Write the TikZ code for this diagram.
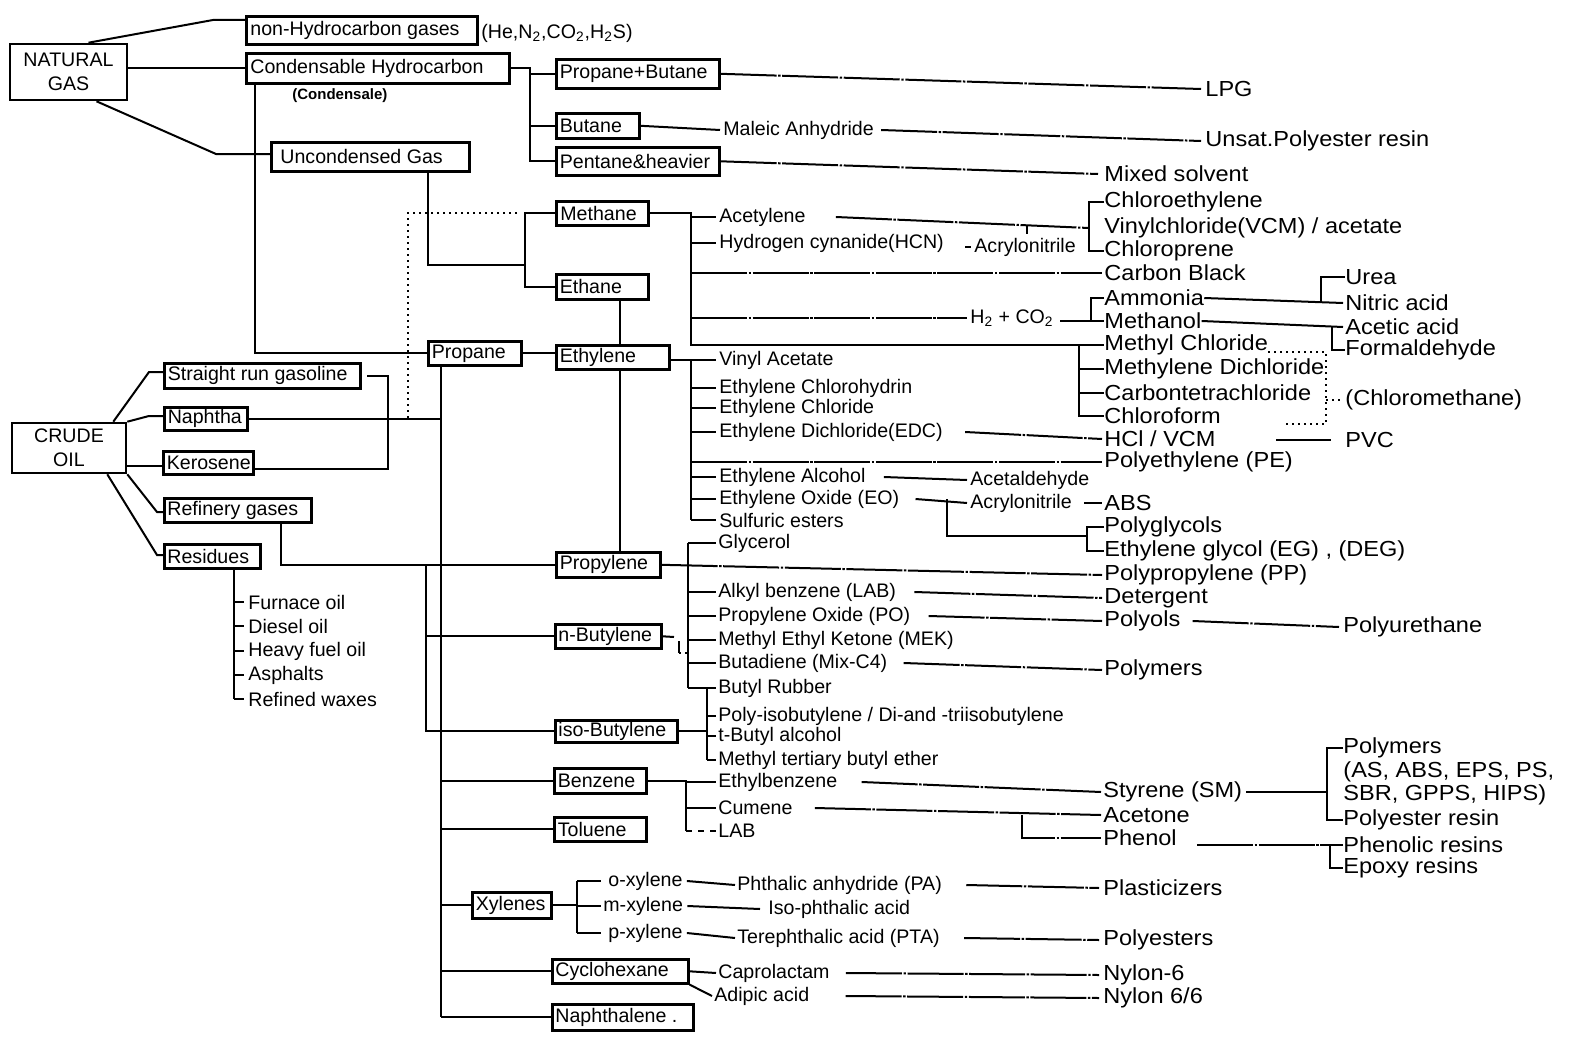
\documentclass[tikz,border=0pt]{standalone}
\usepackage{fontspec}
\setmainfont{Liberation Sans}
\newfontfamily\fBfam[FakeStretch=1.08]{Liberation Sans}
\newcommand\fntA{\fontsize{9.8pt}{12pt}\selectfont}
\newcommand\fntB{\fBfam\fontsize{10.9pt}{12pt}\selectfont}
\newcommand\fntC{\fontsize{7.5pt}{9pt}\selectfont\bfseries}
\tikzset{
  ln/.style={line width=1pt},
  ld/.style={line width=1pt, dash pattern=on 28pt off 0.8pt on 1.2pt off 0.8pt},
  dt/.style={line width=1pt, dash pattern=on 1pt off 2pt},
  boxs/.style={draw, line width=1.3pt, inner sep=0pt},
  tA/.style={anchor=west, inner sep=0pt, font=\fntA},
  tB/.style={anchor=west, inner sep=0pt, font=\fntB},
}
\newcommand\bxn[7]{%
  \node[boxs, anchor=north west, minimum width={(#4-#2)*0.5pt}, minimum height={(#5-#3)*0.5pt}] (#1) at (#2,#3) {};
  \node[tA] (#1t) at ([xshift=#6pt]#1.west) {#7};}
\begin{document}
\begin{tikzpicture}[x=0.5pt,y=-0.5pt]
\useasboundingbox (0,0) rectangle (1573,1038);
% ---------- boxes ----------
\node[boxs, minimum width=58.5pt, minimum height=28pt, align=center, font=\fntA] (ng) at (68.5,72) {NATURAL\\GAS};
\node[boxs, minimum width=57pt, minimum height=25pt, align=center, font=\fntA] (crude) at (69,448) {CRUDE\\OIL};
\bxn{nhc}{245}{15}{476}{43}{2.5}{non-Hydrocarbon gases}
\bxn{cond}{245}{52}{508}{82}{2.5}{Condensable Hydrocarbon}
\bxn{unc}{270}{141}{468}{170}{5}{Uncondensed Gas}
\bxn{pb}{555}{58}{718}{87}{2.2}{Propane+Butane}
\bxn{but}{555}{112}{638}{137}{2.2}{Butane}
\bxn{pent}{555}{146}{718}{174}{2.2}{Pentane\&heavier}
\bxn{meth}{555}{200}{647}{224}{2.5}{Methane}
\bxn{eth}{555}{273}{647}{298}{2.2}{Ethane}
\bxn{ethy}{555}{344}{668}{368}{2.2}{Ethylene}
\bxn{prop}{427}{340}{520}{364}{2.2}{Propane}
\bxn{propy}{555}{551}{659}{576}{2.2}{Propylene}
\bxn{nbut}{554}{623}{660}{647}{2}{n-Butylene}
\bxn{ibut}{554}{719}{676}{741}{2}{iso-Butylene}
\bxn{benz}{553}{767}{645}{792}{2.2}{Benzene}
\bxn{tol}{553}{816}{645}{840}{2.2}{Toluene}
\bxn{xyl}{471}{891}{550}{917}{2.2}{Xylenes}
\bxn{cyc}{551}{958}{687}{982}{2}{Cyclohexane}
\bxn{nap}{551}{1003}{692}{1029}{2}{Naphthalene .}
\bxn{srg}{163}{362}{359}{387}{2.2}{Straight run gasoline}
\bxn{naph}{163}{406}{246}{429}{2.2}{Naphtha}
\bxn{kero}{162}{450}{252}{473}{2.2}{Kerosene}
\bxn{ref}{163}{497}{310}{521}{2}{Refinery gases}
\bxn{res}{163}{543}{259}{567}{2}{Residues}
% ---------- texts (font A) ----------
\node[tA] (nhcx) at (481,33) {(He,N\textsubscript{2},CO\textsubscript{2},H\textsubscript{2}S)};
\node[anchor=west, inner sep=0pt, font=\fntC] (condx) at (292,96) {(Condensale)};
\node[tA] (mal) at (723,130) {Maleic Anhydride};
\node[tA] (acet) at (719,217) {Acetylene};
\node[tA] (hcn) at (719,243) {Hydrogen cynanide(HCN)};
\node[tA] (acr1) at (974,247) {Acrylonitrile};
\node[tA] (h2) at (970,318) {H\textsubscript{2}\ + CO\textsubscript{2}};
\node[tA] (vac) at (719,360) {Vinyl Acetate};
\node[tA] (ech) at (719,388) {Ethylene Chlorohydrin};
\node[tA] (ecl) at (719,408) {Ethylene Chloride};
\node[tA] (edc) at (719,432) {Ethylene Dichloride(EDC)};
\node[tA] (alc) at (719,477) {Ethylene Alcohol};
\node[tA] (acald) at (970,480) {Acetaldehyde};
\node[tA] (eo) at (719,499) {Ethylene Oxide (EO)};
\node[tA] (acr2) at (970,503) {Acrylonitrile};
\node[tA] (sulf) at (719,520) {Sulfuric esters};
\node[tA] (gly) at (718,543) {Glycerol};
\node[tA] (lab) at (718,592) {Alkyl benzene (LAB)};
\node[tA] (po) at (718,616) {Propylene Oxide (PO)};
\node[tA] (mek) at (718,640) {Methyl Ethyl Ketone (MEK)};
\node[tA] (btd) at (718,663) {Butadiene (Mix-C4)};
\node[tA] (brub) at (718,688) {Butyl Rubber};
\node[tA] (pib) at (718,716) {Poly-isobutylene / Di-and -triisobutylene};
\node[tA] (tba) at (718,736) {t-Butyl alcohol};
\node[tA] (mtbe) at (718,760) {Methyl tertiary butyl ether};
\node[tA] (ebz) at (718,782) {Ethylbenzene};
\node[tA] (cum) at (718,808) {Cumene};
\node[tA] (lab2) at (718,831) {LAB};
\node[tA] (oxy) at (608,881) {o-xylene};
\node[tA] (mxy) at (603,906) {m-xylene};
\node[tA] (pxy) at (608,933) {p-xylene};
\node[tA] (pa) at (737,885) {Phthalic anhydride (PA)};
\node[tA] (ipa) at (768,909) {Iso-phthalic acid};
\node[tA] (pta) at (737,938) {Terephthalic acid (PTA)};
\node[tA] (capro) at (718,973) {Caprolactam};
\node[tA] (adip) at (714,996) {Adipic acid};
\node[tA] (fo) at (248,602) {Furnace oil};
\node[tA] (dso) at (248,626) {Diesel oil};
\node[tA] (hfo) at (248,651) {Heavy fuel oil};
\node[tA] (asp) at (248,675) {Asphalts};
\node[tA] (rw) at (248,699) {Refined waxes};
% ---------- texts (font B) ----------
\node[tB] (lpg) at (1205,89) {LPG};
\node[tB] (unsat) at (1205,141) {Unsat.Polyester resin};
\node[tB] (mix) at (1104,174) {Mixed solvent};
\node[tB] (chlet) at (1104,202) {Chloroethylene};
\node[tB] (vcm) at (1104,228) {Vinylchloride(VCM) / acetate};
\node[tB] (chlpr) at (1104,251) {Chloroprene};
\node[tB] (cblk) at (1104,273) {Carbon Black};
\node[tB] (amm) at (1104,298) {Ammonia};
\node[tB] (meoh) at (1104,321) {Methanol};
\node[tB] (mecl) at (1104,345) {Methyl Chloride};
\node[tB] (mdc) at (1104,369) {Methylene Dichloride};
\node[tB] (ctc) at (1104,393) {Carbontetrachloride};
\node[tB] (chlf) at (1104,416) {Chloroform};
\node[tB] (hcl) at (1104,439) {HCl / VCM};
\node[tB] (pe) at (1104,462) {Polyethylene (PE)};
\node[tB] (abs) at (1104,503) {ABS};
\node[tB] (pgly) at (1104,527) {Polyglycols};
\node[tB] (eg) at (1104,551) {Ethylene glycol (EG) , (DEG)};
\node[tB] (pp) at (1104,575) {Polypropylene (PP)};
\node[tB] (det) at (1104,598) {Detergent};
\node[tB] (pol) at (1104,621) {Polyols};
\node[tB] (pur) at (1343,627) {Polyurethane};
\node[tB] (pmr) at (1104,670) {Polymers};
\node[tB] (urea) at (1345,277) {Urea};
\node[tB] (nit) at (1345,303) {Nitric acid};
\node[tB] (acet2) at (1345,327) {Acetic acid};
\node[tB] (form) at (1345,350) {Formaldehyde};
\node[tB] (cmeth) at (1345,400) {(Chloromethane)};
\node[tB] (pvc) at (1345,440) {PVC};
\node[tB] (sty) at (1103,792) {Styrene (SM)};
\node[tB] (acn) at (1103,815) {Acetone};
\node[tB] (phe) at (1103,838) {Phenol};
\node[tB] (pm2) at (1343,748) {Polymers};
\node[tB] (pm2b) at (1343,772) {(AS, ABS, EPS, PS,};
\node[tB] (pm2c) at (1343,795) {SBR, GPPS, HIPS)};
\node[tB] (pres) at (1343,820) {Polyester resin};
\node[tB] (phr) at (1343,845) {Phenolic resins};
\node[tB] (epr) at (1343,868) {Epoxy resins};
\node[tB] (plast) at (1103,888) {Plasticizers};
\node[tB] (pest) at (1103,940) {Polyesters};
\node[tB] (ny6) at (1103,975) {Nylon-6};
\node[tB] (ny66) at (1103,998) {Nylon 6/6};
% ---------- helper coordinates ----------
\coordinate (xCond) at (255,0);
\coordinate (xUnc) at (428,0);
\coordinate (yU) at (0,265);
\coordinate (xMB) at (525,0);
\coordinate (dotR) at (517,0);
\coordinate (xCB) at (530,0);
\coordinate (xDot) at (408,0);
\coordinate (xP) at (441,0);
\coordinate (xP2) at (426,0);
\coordinate (xE) at (620,0);
\coordinate (xM) at (691,0);
\coordinate (xT) at (716,0);
\coordinate (xPr) at (688,0);
\coordinate (xIb) at (707,0);
\coordinate (xBz) at (686,0);
\coordinate (xXy) at (577,0);
\coordinate (xXt) at (601,0);
\coordinate (xSrg) at (388,0);
\coordinate (srgR) at (367,0);
\coordinate (yK) at (0,469);
\coordinate (yCk) at (0,466);
\coordinate (xRef) at (281,0);
\coordinate (xRes) at (234,0);
\coordinate (xResT) at (244,0);
\coordinate (k1) at (213,20);
\coordinate (k2) at (216,154);
\coordinate (c1) at (149,372);
\coordinate (c2) at (149,416);
\coordinate (c3) at (157,512);
\coordinate (c4) at (157,555);
\coordinate (xB1) at (1089,0);
\coordinate (tk1) at (1027,225);
\coordinate (tk2) at (1027,234);
\coordinate (xB2) at (1091,0);
\coordinate (h2R) at (1060,0);
\coordinate (xB3) at (1079,0);
\coordinate (xD2) at (1326,0);
\coordinate (yMd) at (0,352);
\coordinate (dotL) at (1283,424);
\coordinate (xB4) at (1321,0);
\coordinate (xB5) at (1332,0);
\coordinate (xEo) at (947,0);
\coordinate (yPg) at (0,536);
\coordinate (xB6) at (1087,0);
\coordinate (absL) at (1084,0);
\coordinate (nb1) at (674,637);
\coordinate (nb2) at (679,641);
\coordinate (nb3) at (679,653);
\coordinate (nb4) at (690,653);
\coordinate (xCu) at (1022,0);
\coordinate (xB7) at (1327,0);
\coordinate (xB8) at (1330,0);
\coordinate (pheR) at (1197,0);
\coordinate (hclR) at (1276,0);
\coordinate (pvcL) at (1331,0);
\coordinate (acrD1) at (965,0);
\coordinate (acrD2) at (971,0);
% ---------- natural gas ----------
\draw[ln] ([xshift=10pt]ng.north) -- (k1) -- (k1 -| nhc.west);
\draw[ln] (cond.west -| ng.east) -- (cond.west);
\draw[ln] ([xshift=14pt]ng.south) -- (k2) -- (k2 -| unc.west);
\draw[ln] (xCond |- cond.south) -- (xCond |- prop.west) -- (prop.west);
\draw[ln] (cond.east) -- (xCB |- cond.east) -- (xCB |- pent.west) -- (pent.west);
\draw[ln] (xCB |- pb.west) -- (pb.west);
\draw[ln] (xCB |- but.west) -- (but.west);
\draw[ld] (pb.east) -- ([xshift=-2pt]lpg.west);
\draw[ln] (but.east) -- ([xshift=-1.5pt]mal.west);
\draw[ld] ([xshift=3.5pt]mal.east) -- ([xshift=-2pt]unsat.west);
\draw[ld] (pent.east) -- ([xshift=-3pt]mix.west);
\draw[ln] (xUnc |- unc.south) -- (xUnc |- yU) -- (xMB |- yU);
\draw[ln] (meth.west) -- (xMB |- meth.west) -- (xMB |- eth.west) -- (eth.west);
\draw[dt] (dotR |- meth.west) -- (xDot |- meth.west) -- (xDot |- naph.east);
% ---------- propane / crude ----------
\draw[ln] (prop.east) -- (prop.east -| ethy.west);
\draw[ln] (xE |- eth.south) -- (xE |- ethy.north);
\draw[ln] (xE |- ethy.south) -- (xE |- propy.north);
\draw[ln] (xP |- prop.south) -- (xP |- nap.west);
\draw[ln] (naph.east) -- (xP |- naph.east);
\draw[ln] ([xshift=-7pt]crude.north east) -- (c1) -- (c1 -| srg.west);
\draw[ln] (crude.north east) -- (c2) -- (c2 -| naph.west);
\draw[ln] (yCk -| crude.east) -- (yCk -| kero.west);
\draw[ln] (crude.south east) -- (c3) -- (c3 -| ref.west);
\draw[ln] ([xshift=-10pt]crude.south east) -- (c4) -- (c4 -| res.west);
\draw[ln] (srgR |- srg.east) -- (xSrg |- srg.east) -- (xSrg |- yK) -- (yK -| kero.east);
\draw[ln] (xRef |- ref.south) -- (xRef |- propy.west) -- (propy.west);
\draw[ln] (xP2 |- propy.west) -- (xP2 |- ibut.west) -- (ibut.west);
\draw[ln] (xP2 |- nbut.west) -- (nbut.west);
\foreach \b in {benz,tol,xyl,cyc,nap} \draw[ln] (xP |- \b.west) -- (\b.west);
\draw[ln] (xRes |- res.south) -- (xRes |- rw.west);
\foreach \r in {fo,dso,hfo,asp,rw} \draw[ln] (xRes |- \r.west) -- (xResT |- \r.west);
% ---------- methane ----------
\draw[ln] (meth.east) -- (xM |- meth.east) -- (xM |- mecl.west) -- (mecl.west);
\draw[ln] (xM |- acet.west) -- (xT |- acet.west);
\draw[ln] (xM |- hcn.west) -- (xT |- hcn.west);
\draw[ld] (xM |- cblk.west) -- ([xshift=-1pt]cblk.west);
\draw[ld] (xM |- h2.west) -- ([xshift=-1.5pt]h2.west);
\draw[ld] ([xshift=15pt]acet.east) -- (xB1 |- vcm.west);
\draw[ln] (chlet.west) -- (xB1 |- chlet.west) -- (xB1 |- chlpr.west) -- (chlpr.west);
\draw[ln] (tk1) -- (tk2);
\draw[ln] (acrD1 |- acr1.west) -- (acrD2 |- acr1.west);
\draw[ln] (h2R |- meoh.west) -- (xB2 |- meoh.west);
\draw[ln] (amm.west) -- (xB2 |- amm.west) -- (xB2 |- meoh.west) -- (meoh.west);
\draw[ln] (xB3 |- mecl.west) -- (xB3 |- chlf.west) -- (chlf.west);
\draw[ln] (xB3 |- mdc.west) -- (mdc.west);
\draw[ln] (xB3 |- ctc.west) -- (ctc.west);
\draw[dt] (mecl.east |- yMd) -- (xD2 |- yMd) -- (xD2 |- dotL) -- (dotL);
\draw[dt] (xD2 |- cmeth.west) -- ([xshift=-1pt]cmeth.west);
\draw[ln] (amm.east) -- ([xshift=-1pt]nit.west);
\draw[ln] (urea.west) -- (xB4 |- urea.west) -- (xB4 |- nit.west);
\draw[ln] (meoh.east) -- ([xshift=-1pt]acet2.west);
\draw[ln] (xB5 |- acet2.west) -- (xB5 |- form.west) -- (form.west);
% ---------- ethylene ----------
\draw[ld] (ethy.east |- vac.west) -- (xT |- vac.west);
\draw[ln] (xM |- vac.west) -- (xM |- sulf.west);
\foreach \e in {ech,ecl,edc,alc,eo,sulf} \draw[ln] (xM |- \e.west) -- (xT |- \e.west);
\draw[ld] (xM |- pe.west) -- ([xshift=-1pt]pe.west);
\draw[ld] ([xshift=11pt]edc.east) -- ([xshift=-1pt]hcl.west);
\draw[ln] (hclR |- pvc.west) -- (pvcL |- pvc.west);
\draw[ln] ([xshift=9pt]alc.east) -- ([xshift=-1.5pt]acald.west);
\draw[ln] ([xshift=8pt]eo.east) -- ([xshift=-1.5pt]acr2.west);
\draw[ln] (xEo |- eo.east) -- (xEo |- yPg) -- (xB6 |- yPg);
\draw[ln] (pgly.west) -- (xB6 |- pgly.west) -- (xB6 |- eg.west) -- (eg.west);
\draw[ln] (absL |- abs.west) -- ([xshift=-1pt]abs.west);
% ---------- propylene / butylenes ----------
\draw[ld] (propy.east) -- ([xshift=-1pt]pp.west);
\draw[ln] (xPr |- gly.west) -- (xPr |- brub.west);
\foreach \p in {gly,lab,po,mek,btd,brub} \draw[ln] (xPr |- \p.west) -- (xT |- \p.west);
\draw[ld] ([xshift=9pt]lab.east) -- ([xshift=-1pt]det.west);
\draw[ld] ([xshift=9pt]po.east) -- ([xshift=-1pt]pol.west);
\draw[ld] ([xshift=6pt]pol.east) -- ([xshift=-2pt]pur.west);
\draw[ld] ([xshift=8pt]btd.east) -- ([xshift=-1pt]pmr.west);
\draw[ln] (nbut.east) -- (nb1);
\draw[ln] (nb2) -- (nb3);
\draw[dt] (nb3) -- (nb4);
\draw[ln] (ibut.east) -- (xIb |- ibut.east);
\draw[ln] (xIb |- brub.west) -- (xIb |- mtbe.west);
\foreach \q in {pib,tba,mtbe} \draw[ln] (xIb |- \q.west) -- (xT |- \q.west);
% ---------- benzene ----------
\draw[ln] (benz.east) -- (xBz |- benz.east) -- (xBz |- lab2.west);
\draw[ln] (xBz |- ebz.west) -- (xT |- ebz.west);
\draw[ln] (xBz |- cum.west) -- (xT |- cum.west);
\draw[ln, dashed] (xBz |- lab2.west) -- (xT |- lab2.west);
\draw[ld] ([xshift=12pt]ebz.east) -- ([xshift=-1pt]sty.west);
\draw[ld] ([xshift=11pt]cum.east) -- ([xshift=-1pt]acn.west);
\draw[ld] (xCu |- acn.west) -- (xCu |- phe.west) -- ([xshift=-1pt]phe.west);
\draw[ln] ([xshift=2pt]sty.east) -- (xB7 |- sty.east);
\draw[ln] (pm2.west) -- (xB7 |- pm2.west) -- (xB7 |- pres.west) -- (pres.west);
\draw[ld] (pheR |- phr.west) -- (xB8 |- phr.west);
\draw[ln] (phr.west) -- (xB8 |- phr.west) -- (xB8 |- epr.west) -- (epr.west);
% ---------- xylenes ----------
\draw[ln] (xyl.east) -- (xXy |- xyl.east);
\draw[ln] (xXy |- oxy.west) -- (xXy |- pxy.west);
\foreach \x in {oxy,mxy,pxy} \draw[ln] (xXy |- \x.west) -- (xXt |- \x.west);
\draw[ln] ([xshift=2pt]oxy.east) -- ([xshift=-1pt]pa.west);
\draw[ln] ([xshift=2pt]mxy.east) -- ([xshift=-4pt]ipa.west);
\draw[ln] ([xshift=2pt]pxy.east) -- ([xshift=-1pt]pta.west);
\draw[ld] ([xshift=12pt]pa.east) -- ([xshift=-2pt]plast.west);
\draw[ld] ([xshift=12pt]pta.east) -- ([xshift=-2pt]pest.west);
% ---------- cyclohexane ----------
\draw[ln] (cyc.east) -- ([xshift=-1pt]capro.west);
\draw[ln] (cyc.south east) -- ([xshift=-1pt]adip.west);
\draw[ld] ([xshift=8pt]capro.east) -- ([xshift=-2pt]ny6.west);
\draw[ld] ([xshift=18pt]adip.east) -- ([xshift=-2pt]ny66.west);
\end{tikzpicture}
\end{document}
